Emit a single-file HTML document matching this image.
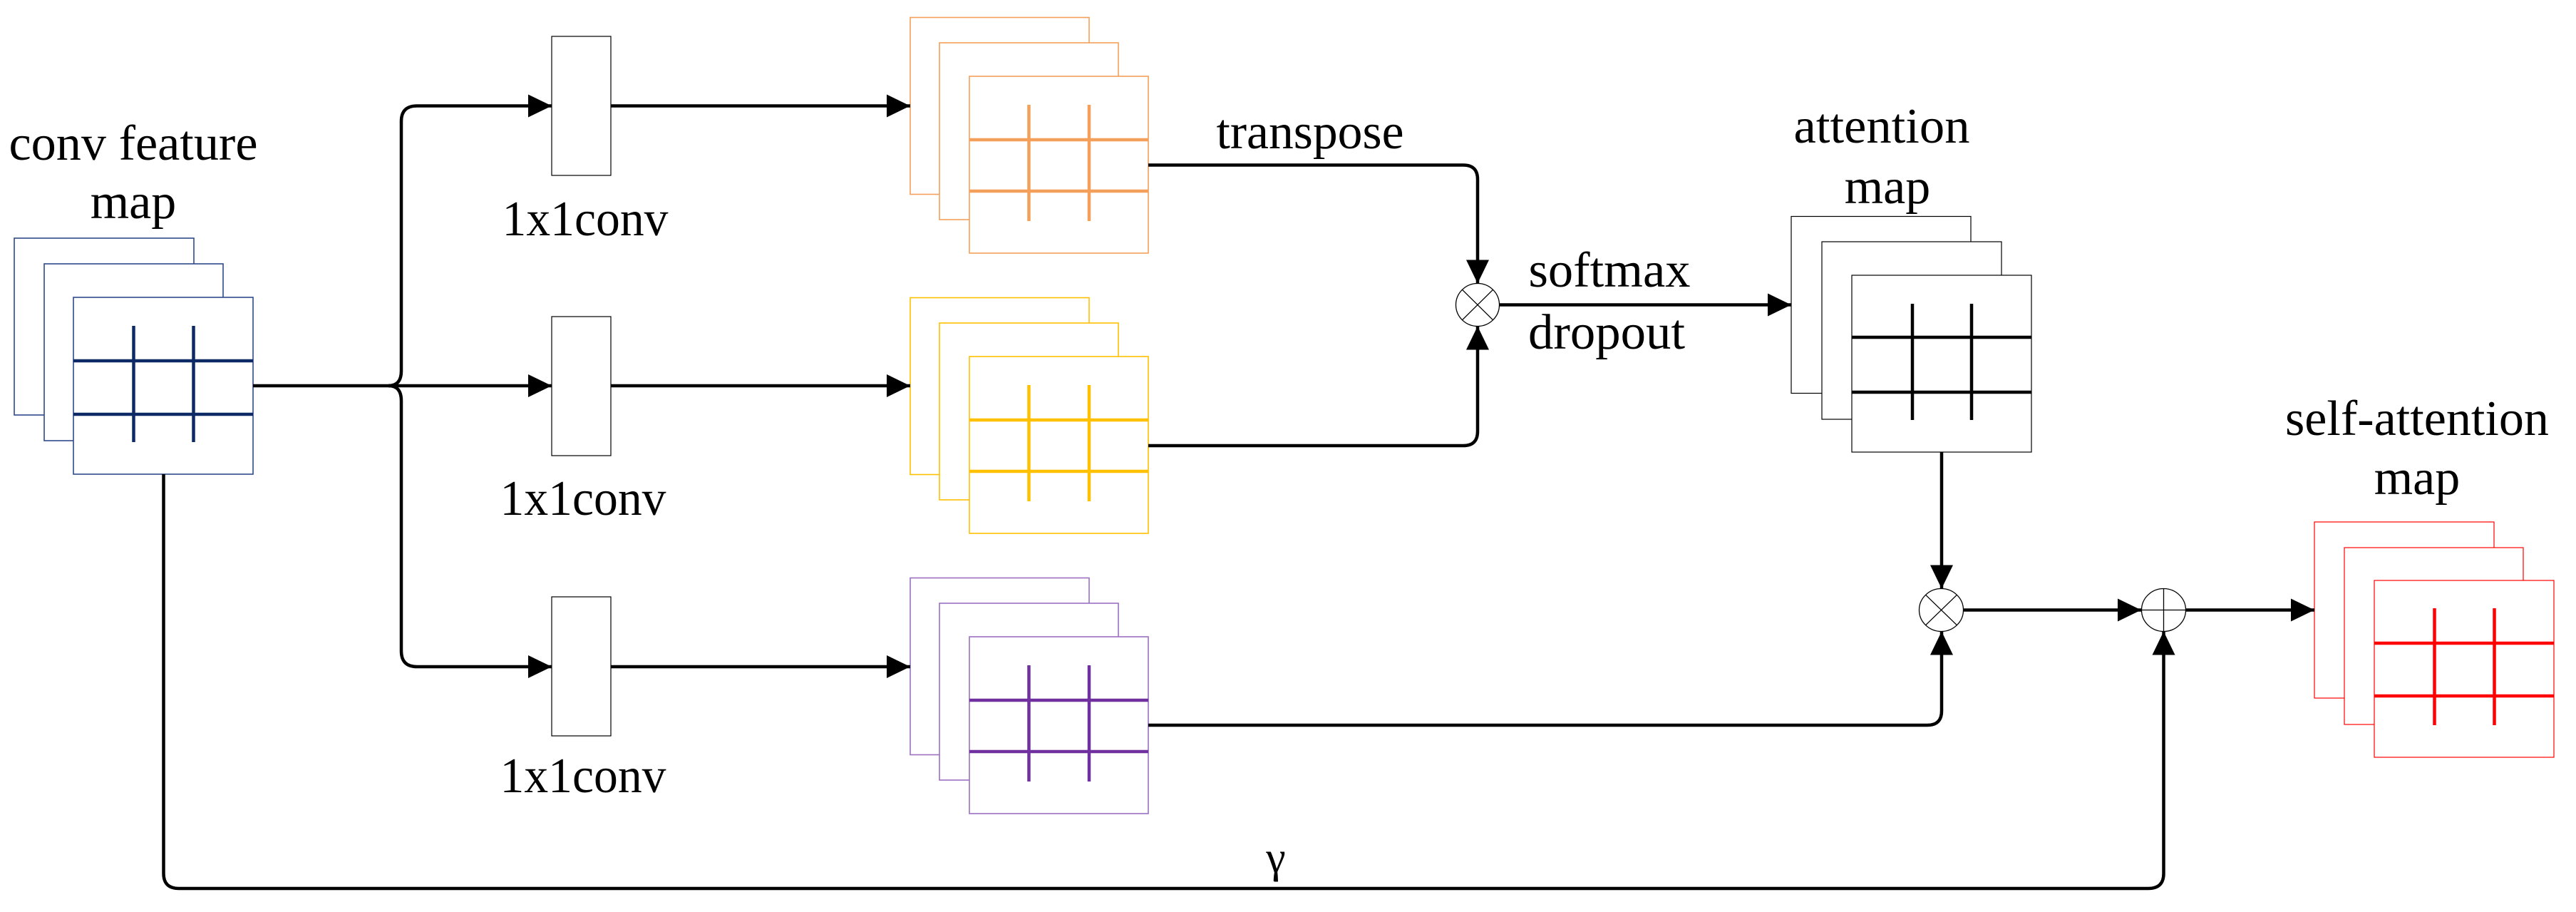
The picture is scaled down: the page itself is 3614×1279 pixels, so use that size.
<!DOCTYPE html>
<html><head><meta charset="utf-8"><style>html,body{margin:0;padding:0;background:#fff}svg{display:block}.t{font-family:"Liberation Serif","DejaVu Serif",serif;font-size:70px;fill:#000}</style></head>
<body>
<svg width="3614" height="1279" viewBox="0 0 3614 1279" xmlns="http://www.w3.org/2000/svg">
<defs>
<marker id="a" markerUnits="userSpaceOnUse" markerWidth="34" markerHeight="34" refX="33" refY="16" orient="auto"><path d="M0,0 L33,16 L0,32 Z" fill="#000"/></marker>
</defs>
<g fill="#fff" stroke-width="1.6">
<g stroke="#2f4a8a">
<rect x="20" y="334" width="252" height="248"/><rect x="62" y="370" width="251" height="248"/><rect x="103" y="417" width="252" height="248"/>
</g>
<g stroke="#f4a05a">
<rect x="1277" y="24.5" width="251" height="248"/><rect x="1318" y="60" width="251" height="248"/><rect x="1360" y="107" width="251" height="248"/>
</g>
<g stroke="#ffc000">
<rect x="1277" y="417.5" width="251" height="248"/><rect x="1318" y="453" width="251" height="248"/><rect x="1360" y="500" width="251" height="248"/>
</g>
<g stroke="#9b6fc4">
<rect x="1277" y="810.5" width="251" height="248"/><rect x="1318" y="846" width="251" height="248"/><rect x="1360" y="893" width="251" height="248"/>
</g>
<g stroke="#000" stroke-width="1.2">
<rect x="2513" y="303.5" width="252" height="248"/><rect x="2556" y="339" width="252" height="249"/><rect x="2598" y="386" width="252" height="248"/>
</g>
<g stroke="#f00" stroke-width="1.2">
<rect x="3247" y="732" width="252" height="247"/><rect x="3289" y="768" width="251" height="248"/><rect x="3331" y="814" width="252" height="248"/>
</g>
<g stroke="#000" stroke-width="1.2">
<rect x="774" y="51" width="83" height="195"/><rect x="774" y="444" width="83" height="195"/><rect x="774" y="837" width="83" height="195"/>
</g>
</g>
<g stroke-width="4.5" fill="none">
<path stroke="#0d2a66" d="M187.5,457V620M271.5,457V620M103,506H355M103,581H355"/>
<path stroke="#f4a05a" d="M1443.5,147V310M1528,147V310M1360,196H1611M1360,268H1611"/>
<path stroke="#ffc000" d="M1443.5,540V703M1528,540V703M1360,589H1611M1360,661H1611"/>
<path stroke="#7030a0" d="M1443.5,933V1096M1528,933V1096M1360,982H1611M1360,1054H1611"/>
<path stroke="#000" d="M2683,426V589M2766,426V589M2598,473H2850M2598,550H2850"/>
<path stroke="#f00" d="M3415.5,853V1017M3499.5,853V1017M3331,902H3583M3331,976H3583"/>
</g>
<g stroke="#000" stroke-width="4.5" fill="none">
<path d="M355,541H545Q563,541 563,520V170Q563,148.5 585,148.5H774" marker-end="url(#a)"/>
<path d="M545,541H774" marker-end="url(#a)"/>
<path d="M545,541Q563,541 563,562V913Q563,935 585,935H774" marker-end="url(#a)"/>
<path d="M857,148.5H1277" marker-end="url(#a)"/>
<path d="M857,541H1277" marker-end="url(#a)"/>
<path d="M857,935H1277" marker-end="url(#a)"/>
<path d="M1611,231.5H2053Q2073,231.5 2073,251.5V397.5" marker-end="url(#a)"/>
<path d="M1611,625H2053Q2073,625 2073,605V457.5" marker-end="url(#a)"/>
<path d="M2104,427.5H2513" marker-end="url(#a)"/>
<path d="M2724,634V825.5" marker-end="url(#a)"/>
<path d="M1611,1017H2704Q2724,1017 2724,997V885.5" marker-end="url(#a)"/>
<path d="M2755,855.5H3004" marker-end="url(#a)"/>
<path d="M3067,855.5H3247" marker-end="url(#a)"/>
<path d="M229.5,665V1225Q229.5,1246 251,1246H3014Q3035.5,1246 3035.5,1225V885.5" marker-end="url(#a)"/>
</g>
<g stroke="#000" stroke-width="1.3" fill="#fff">
<ellipse cx="2073" cy="427.5" rx="30.5" ry="30"/>
<path d="M2051.5,406.3L2094.5,448.7M2094.5,406.3L2051.5,448.7"/>
<ellipse cx="2723.5" cy="855.5" rx="31" ry="30"/>
<path d="M2701.6,834.3L2745.4,876.7M2745.4,834.3L2701.6,876.7"/>
<ellipse cx="3035.5" cy="855.5" rx="31" ry="30"/>
<path d="M3004.5,855.5H3066.5M3035.5,825.5V885.5"/>
</g>
<g class="t" text-anchor="middle">
<text class="t" x="187" y="224" textLength="349" lengthAdjust="spacingAndGlyphs">conv feature</text>
<text class="t" x="187" y="306">map</text>
<text class="t" x="821" y="330" textLength="233" lengthAdjust="spacingAndGlyphs">1x1conv</text>
<text class="t" x="818" y="722" textLength="233" lengthAdjust="spacingAndGlyphs">1x1conv</text>
<text class="t" x="818" y="1111" textLength="233" lengthAdjust="spacingAndGlyphs">1x1conv</text>
<text class="t" x="1838" y="208" textLength="263" lengthAdjust="spacingAndGlyphs">transpose</text>
<text class="t" x="2258" y="402" textLength="227" lengthAdjust="spacingAndGlyphs">softmax</text>
<text class="t" x="2254" y="489" textLength="220" lengthAdjust="spacingAndGlyphs">dropout</text>
<text class="t" x="2640" y="200" textLength="247" lengthAdjust="spacingAndGlyphs">attention</text>
<text class="t" x="2648" y="285">map</text>
<text class="t" x="3391" y="610" textLength="370" lengthAdjust="spacingAndGlyphs">self-attention</text>
<text class="t" x="3391" y="693">map</text>
<text class="t" x="1790" y="1223" style="font-size:62px">γ</text>
</g>
</svg>
</body></html>
